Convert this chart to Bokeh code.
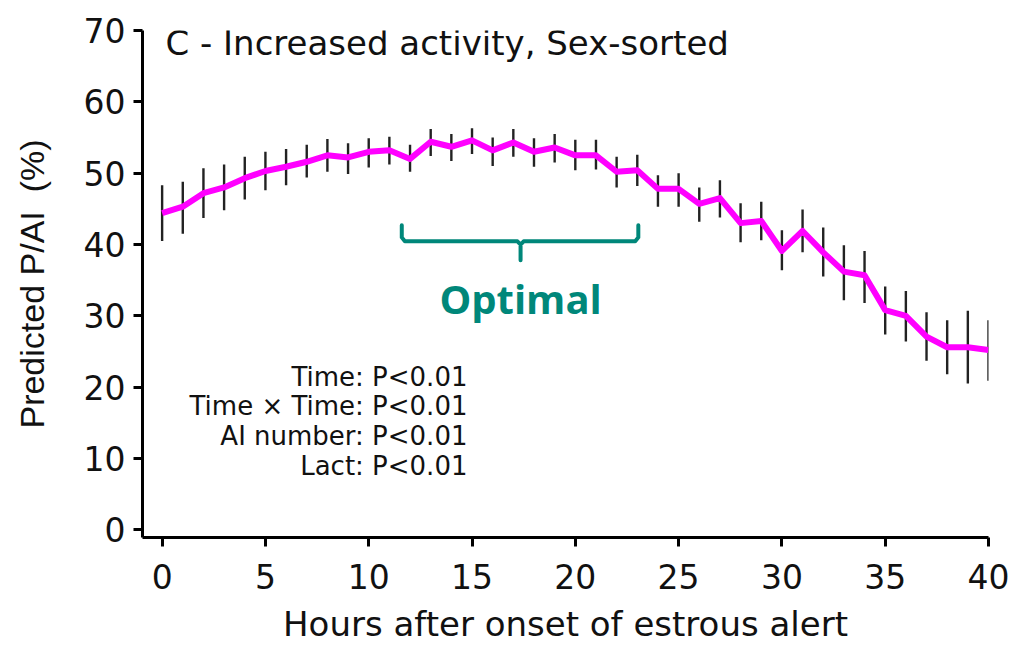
from bokeh.plotting import figure
from bokeh.models import Label, FixedTicker, ColumnDataSource
from bokeh.embed import file_html
from bokeh.resources import INLINE

hours = list(range(0, 41))
pai = [44.4, 45.3, 47.2, 48.0, 49.3, 50.3, 50.9, 51.6, 52.5, 52.2,
       53.0, 53.2, 52.0, 54.4, 53.7, 54.6, 53.2, 54.3, 53.0, 53.6,
       52.5, 52.5, 50.2, 50.4, 47.8, 47.8, 45.7, 46.5, 43.0, 43.3,
       39.1, 41.9, 38.9, 36.2, 35.7, 30.8, 30.0, 27.1, 25.6, 25.6, 25.2]
upper = [48.3, 48.8, 50.7, 51.2, 52.3, 53.0, 53.4, 54.0, 54.8, 54.2,
         54.9, 55.1, 54.0, 56.2, 55.5, 56.3, 55.0, 56.2, 54.9, 55.5,
         54.7, 54.7, 52.3, 52.6, 49.7, 50.0, 48.0, 49.0, 45.8, 46.0,
         42.0, 44.9, 42.4, 39.9, 39.1, 34.1, 33.5, 30.5, 29.4, 30.7, 29.4]
lower = [40.5, 41.5, 43.7, 44.8, 46.3, 47.6, 48.3, 49.4, 50.2, 49.9,
         50.8, 51.2, 50.2, 52.4, 51.7, 52.7, 51.0, 52.3, 50.9, 51.5,
         50.4, 50.5, 48.0, 48.2, 45.3, 45.3, 43.2, 43.8, 40.3, 40.6,
         36.4, 38.9, 35.5, 32.2, 31.8, 27.4, 26.4, 23.7, 21.8, 20.5, 20.9]

y_ticks = [0, 10, 20, 30, 40, 50, 60, 70]
x_ticks = [0, 5, 10, 15, 20, 25, 30, 35, 40]

title_text = "C - Increased activity, Sex-sorted"
stats_lines = ["Time: P<0.01", "Time \u00d7 Time: P<0.01", "AI number: P<0.01", "Lact: P<0.01"]
stats_y = [21.4, 17.3, 13.1, 8.9]

# optimal window bracket (hours, P/AI %)
bracket_x = [11.6, 11.6, 11.75, 17.2, 17.35, 17.35, 17.35, 17.5, 22.9, 23.05, 23.05]
bracket_y = [42.7, 41.0, 40.45, 40.45, 40.0, 37.8, 40.0, 40.45, 40.45, 41.0, 42.7]
optimal_x = 17.35
optimal_y = 32.5

TEAL = "#00877A"
FONT = "DejaVu Sans"

p = figure(width=1011, height=646, output_backend="svg", toolbar_location=None,
           x_range=(-0.95, 40), y_range=(-1.07, 70),
           min_border_left=142, min_border_right=23, min_border_top=30, min_border_bottom=105)
p.outline_line_color = None
p.xgrid.visible = False
p.ygrid.visible = False
p.background_fill_color = "white"

src = ColumnDataSource(dict(x=hours, y=pai, up=upper, lo=lower))
p.segment(x0="x", y0="lo", x1="x", y1="up", source=src, line_color="#222222", line_width=2.4)
p.line(x="x", y="y", source=src, line_color="#FF00FF", line_width=6, line_join="round")

p.line(bracket_x, bracket_y, line_color=TEAL, line_width=4, line_join="round", line_cap="round")

for ax, ticks in ((p.xaxis, x_ticks), (p.yaxis, y_ticks)):
    ax.ticker = FixedTicker(ticks=ticks)
    ax.minor_tick_line_color = None
    ax.major_tick_in = 0
    ax.major_tick_out = 9
    ax.major_tick_line_width = 3
    ax.axis_line_width = 3
    ax.axis_line_color = "black"
    ax.major_tick_line_color = "black"
    ax.major_label_text_font = FONT
    ax.major_label_text_font_size = "33px"
    ax.major_label_text_color = "#111111"
    ax.axis_label_text_font_style = "normal"
    ax.axis_label_text_color = "#111111"

p.xaxis.axis_label = "Hours after onset of estrous alert"
p.xaxis.axis_label_text_font = FONT
p.xaxis.axis_label_text_font_size = "34px"
p.xaxis.major_label_standoff = 17
p.xaxis.axis_label_standoff = 12

p.yaxis.axis_label = "Predicted P/AI\u00a0 (%)"
p.yaxis.axis_label_text_font = "Liberation Sans"
p.yaxis.axis_label_text_font_size = "34px"
p.yaxis.major_label_standoff = 8
p.yaxis.axis_label_standoff = 30

p.add_layout(Label(x=0.16, y=68.3, text=title_text, text_font=FONT, text_font_size="34px",
                   text_baseline="middle", text_align="left", text_color="#111111"))

for t, yy in zip(stats_lines, stats_y):
    p.add_layout(Label(x=14.78, y=yy, text=t, text_font=FONT, text_font_size="26px",
                       text_baseline="middle", text_align="right", text_color="#111111"))

p.add_layout(Label(x=optimal_x, y=optimal_y, text="Optimal", text_font="Open Sans",
                   text_font_style="bold", text_font_size="40px", text_baseline="middle",
                   text_align="center", text_color=TEAL))

open("out.html", "w").write(file_html(p, INLINE))
